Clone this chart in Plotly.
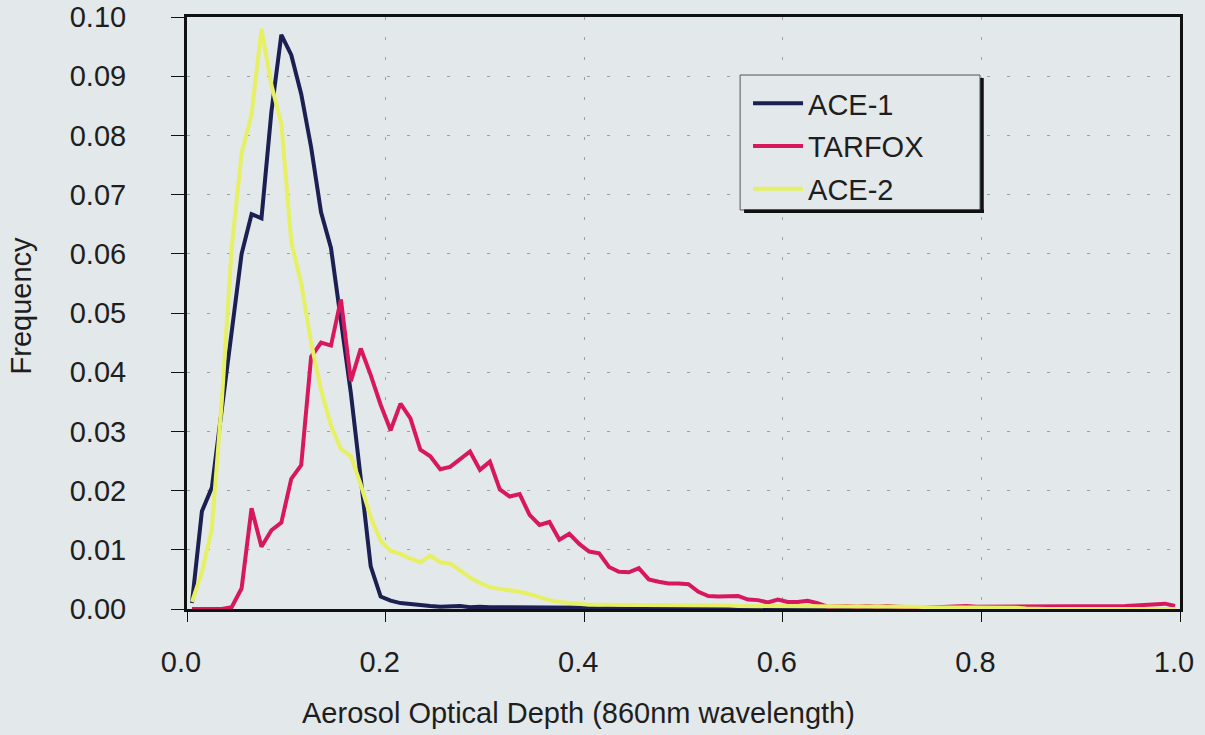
import plotly.graph_objects as go

# Bin centres of the aerosol optical depth histogram (860 nm)
aod = [0.005, 0.015, 0.025, 0.035, 0.045, 0.055, 0.065, 0.075, 0.085, 0.095,
       0.105, 0.115, 0.125, 0.135, 0.145, 0.155, 0.165, 0.175, 0.185, 0.195,
       0.205, 0.215, 0.225, 0.235, 0.245, 0.255, 0.265, 0.275, 0.285, 0.295,
       0.305, 0.315, 0.325, 0.335, 0.345, 0.355, 0.365, 0.375, 0.385, 0.395,
       0.405, 0.415, 0.425, 0.435, 0.445, 0.455, 0.465, 0.475, 0.485, 0.495,
       0.505, 0.515, 0.525, 0.535, 0.545, 0.555, 0.565, 0.575, 0.585, 0.595,
       0.605, 0.615, 0.625, 0.635, 0.645, 0.655, 0.665, 0.675, 0.685, 0.695,
       0.705, 0.715, 0.725, 0.735, 0.745, 0.755, 0.765, 0.775, 0.785, 0.795,
       0.805, 0.815, 0.825, 0.835, 0.845, 0.855, 0.865, 0.875, 0.885, 0.895,
       0.905, 0.915, 0.925, 0.935, 0.945, 0.955, 0.965, 0.975, 0.985, 0.995]

ace1 = [0.0010, 0.0165, 0.0205, 0.0340, 0.0470, 0.0600, 0.0667, 0.0660, 0.0840, 0.0970,
        0.0936, 0.0870, 0.0780, 0.0670, 0.0610, 0.0490, 0.0365, 0.0220, 0.0072, 0.0021,
        0.0014, 0.0010, 0.0008, 0.0006, 0.0005, 0.0004, 0.0004, 0.0005, 0.0003, 0.0004,
        0.0003, 0.0003, 0.0002, 0.0002, 0.0002, 0.0002, 0.0002, 0.0002, 0.0002, 0.0002,
        0.0002, 0.0001, 0.0002, 0.0001, 0.0001, 0.0001, 0.0001, 0.0001, 0.0001, 0.0001,
        0.0001, 0.0001, 0.0001, 0.0001, 0.0001, 0.0001, 0.0001, 0.0001, 0.0001, 0.0001,
        0.0001, 0.0001, 0.0, 0.0, 0.0, 0.0, 0.0, 0.0, 0.0, 0.0,
        0.0, 0.0, 0.0, 0.0, 0.0, 0.0, 0.0, 0.0, 0.0, 0.0,
        0.0, 0.0, 0.0, 0.0, 0.0, 0.0, 0.0, 0.0, 0.0, 0.0,
        0.0, 0.0, 0.0, 0.0, 0.0, 0.0, 0.0, 0.0, 0.0, 0.0]

tarfox = [0.0, 0.0, 0.0, 0.0, 0.0003, 0.0035, 0.0170, 0.0105, 0.0133, 0.0146,
          0.0220, 0.0243, 0.0426, 0.0450, 0.0445, 0.0523, 0.0385, 0.0440, 0.0395, 0.0345,
          0.0302, 0.0347, 0.0322, 0.0269, 0.0258, 0.0236, 0.0240, 0.0252, 0.0266, 0.0235,
          0.0249, 0.0202, 0.0190, 0.0194, 0.0159, 0.0142, 0.0147, 0.0117, 0.0127, 0.0110,
          0.0097, 0.0094, 0.0071, 0.0063, 0.0062, 0.0069, 0.0050, 0.0046, 0.0043, 0.0043,
          0.0042, 0.0029, 0.0022, 0.0021, 0.0021, 0.0022, 0.0016, 0.0015, 0.0011, 0.0016,
          0.0012, 0.0012, 0.0014, 0.0010, 0.0004, 0.0005, 0.0005, 0.0004, 0.0005, 0.0004,
          0.0005, 0.0004, 0.0003, 0.0002, 0.0002, 0.0003, 0.0004, 0.0004, 0.0005, 0.0004,
          0.0004, 0.0005, 0.0004, 0.0004, 0.0005, 0.0004, 0.0005, 0.0004, 0.0005, 0.0004,
          0.0004, 0.0005, 0.0004, 0.0005, 0.0005, 0.0006, 0.0007, 0.0008, 0.0009, 0.0005]

ace2 = [0.0012, 0.0062, 0.0135, 0.0350, 0.0610, 0.0770, 0.0835, 0.0980, 0.0885, 0.0820,
        0.0620, 0.0550, 0.0450, 0.0370, 0.0310, 0.0270, 0.0258, 0.0210, 0.0155, 0.0115,
        0.0098, 0.0093, 0.0085, 0.0079, 0.0090, 0.0079, 0.0077, 0.0065, 0.0053, 0.0044,
        0.0037, 0.0034, 0.0032, 0.0029, 0.0025, 0.0020, 0.0015, 0.0012, 0.0010, 0.0008,
        0.0007, 0.0007, 0.0007, 0.0006, 0.0006, 0.0006, 0.0006, 0.0006, 0.0006, 0.0006,
        0.0006, 0.0006, 0.0006, 0.0006, 0.0006, 0.0005, 0.0005, 0.0005, 0.0005, 0.0005,
        0.0005, 0.0005, 0.0005, 0.0005, 0.0004, 0.0004, 0.0004, 0.0004, 0.0004, 0.0004,
        0.0004, 0.0004, 0.0004, 0.0004, 0.0003, 0.0003, 0.0003, 0.0003, 0.0003, 0.0003,
        0.0003, 0.0003, 0.0002, 0.0002, 0.0001, 0.0, 0.0, 0.0, 0.0, 0.0,
        0.0, 0.0, 0.0, 0.0, 0.0, 0.0, 0.0, 0.0, 0.0, 0.0]

x_ticks = [0.0, 0.2, 0.4, 0.6, 0.8, 1.0]
y_ticks = [0.00, 0.01, 0.02, 0.03, 0.04, 0.05, 0.06, 0.07, 0.08, 0.09, 0.10]

BG = "#E3E8EA"
FONT = "Liberation Sans, Arial, Helvetica, sans-serif"
TEXT = "#1E1E1E"
GRID = "rgba(70,70,80,0.45)"
FS = 29

fig = go.Figure()
series = [("ACE-1", ace1, "#1B1F52"),
          ("TARFOX", tarfox, "#D7185E"),
          ("ACE-2", ace2, "#E6F062")]
for name, vals, color in series:
    fig.add_trace(go.Scatter(x=aod, y=vals, name=name, legendgroup=name,
                             mode="lines", line=dict(color=color, width=4)))

# legend frame with a drop shadow on the right and bottom
shapes = [
    dict(type="rect", xref="paper", yref="paper", x0=0.557, x1=0.7986,
         y0=0.674, y1=0.902, line=dict(color="#555", width=1), fillcolor=BG,
         layer="above"),
    dict(type="line", xref="paper", yref="paper", x0=0.8006, x1=0.8006,
         y0=0.6706, y1=0.897, line=dict(color="#111", width=3.5), layer="above"),
    dict(type="line", xref="paper", yref="paper", x0=0.561, x1=0.8026,
         y0=0.6720, y1=0.6720, line=dict(color="#111", width=3.5), layer="above"),
]

annotations = [
    dict(text="Aerosol Optical Depth (860nm wavelength)", xref="paper", yref="paper",
         x=0.394, y=-0.176, xanchor="center", yanchor="middle", showarrow=False,
         font=dict(family=FONT, size=FS, color=TEXT)),
    dict(text="Frequency", xref="paper", yref="paper", textangle=-90,
         x=-0.167, y=0.513, xanchor="center", yanchor="middle", showarrow=False,
         font=dict(family=FONT, size=FS, color=TEXT)),
]

fig.update_layout(
    width=1205, height=735,
    margin=dict(l=187, r=25, t=17, b=126),
    paper_bgcolor=BG, plot_bgcolor=BG,
    font=dict(family=FONT, size=FS, color=TEXT),
    showlegend=True,
    legend=dict(x=0.565, y=0.897, xanchor="left", yanchor="top",
                bgcolor="rgba(0,0,0,0)", borderwidth=0, itemwidth=50,
                font=dict(family=FONT, size=FS, color=TEXT),
                tracegroupgap=2),
    shapes=shapes,
    annotations=annotations,
    xaxis=dict(range=[0, 1.0], tickvals=x_ticks, tickformat=".1f",
               showline=True, linecolor="#111", linewidth=3, mirror=True,
               ticks="outside", ticklen=10, tickcolor="#111", tickwidth=1,
               showgrid=True, gridcolor=GRID, gridwidth=1, griddash="3px,17px",
               zeroline=False, ticklabelstandoff=15, ticklabelshift=-6,
               automargin=False),
    yaxis=dict(range=[0, 0.10], tickvals=y_ticks, tickformat=".2f",
               showline=True, linecolor="#111", linewidth=3, mirror=True,
               ticks="outside", ticklen=13, tickcolor="#111", tickwidth=1,
               showgrid=True, gridcolor=GRID, gridwidth=1, griddash="3px,17px",
               zeroline=False, ticklabelstandoff=39, automargin=False),
)

fig.write_html("out.html")
